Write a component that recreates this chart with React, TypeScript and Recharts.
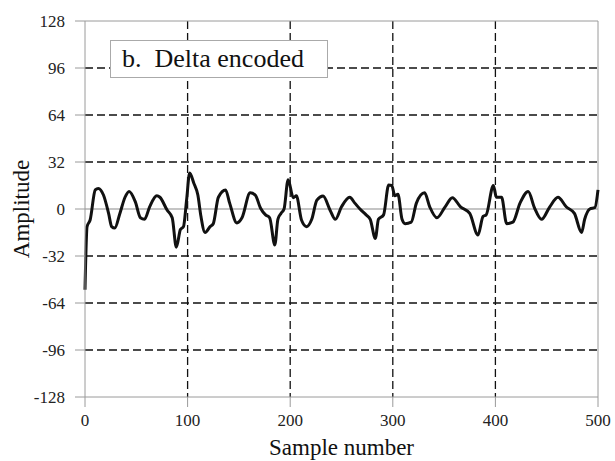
import React from 'react';
import { LineChart, Line, XAxis, YAxis, CartesianGrid, ReferenceLine } from 'recharts';

// DATA
const sampleIdx = [
  0, 2, 5, 10, 13, 18, 23, 26, 29, 34, 39, 43, 49, 54, 58, 63, 70, 73, 80, 85,
  89, 93, 96, 99, 102, 106, 110, 113, 117, 122, 125, 130, 137, 141, 148, 153, 161, 166, 171, 176,
  180, 185, 188, 191, 194, 198, 203, 206, 211, 216, 221, 226, 232, 239, 244, 250, 258, 263, 268, 274,
  278, 283, 286, 291, 296, 299, 302, 305, 309, 312, 318, 323, 331, 336, 343, 351, 358, 366, 375, 383,
  388, 391, 398, 401, 406, 411, 417, 424, 432, 438, 445, 453, 461, 469, 477, 484, 487, 492, 497, 500,
];
const amplitude = [
  -55, -12, -7.5, 13, 14, 9.5, -3, -12, -13, -3, 8, 12, 5, -6, -7, 1.5, 9, 8, -0.7, -6,
  -26, -14, -12, 6, 24.5, 17.7, 9.5, -5, -16, -12, -10, 8, 13, 4, -9.5, -6, 11, 9.5, 0.7, -4,
  -6, -24.5, -7, -3, 0, 20, 7.7, 9, -7.5, -12, -7, 6, 8.8, -1, -7, 1.5, 8, 4, 0, -4,
  -7, -20, -7, -4, 16.3, 16, 9, 10, -7, -10, -9, 4, 11, 1.5, -6, 1.5, 7.7, 1.5, -3, -17.7,
  -5, -4, 16, 8, 8, -10, -9, 4, 12, 1, -7, 1.5, 8, 1.5, -3, -16, -7, 0, 1, 13,
];
const xTicks = [0, 100, 200, 300, 400, 500];
const yTicks = [-128, -96, -64, -32, 0, 32, 64, 96, 128];
const gridX = [100, 200, 300, 400];
const gridY = [-96, -64, -32, 32, 64, 96];

const data = sampleIdx.map((s, i) => ({ s, v: amplitude[i] }));

const FONT = 'Liberation Serif';
const FRAME = '#9a9a9a';

const App: React.FC = () => {
  return (
    <div style={{ position: 'absolute', left: 0, top: 0, width: 615, height: 461, background: '#fff', fontFamily: FONT }}>
      <LineChart width={615} height={461} data={data} margin={{ top: 21, right: 17, left: 0, bottom: 0 }} style={{ fontFamily: FONT }}>
        <CartesianGrid
          horizontalValues={gridY}
          verticalValues={gridX}
          stroke="#111"
          strokeDasharray="8 4"
          strokeWidth={1.3}
        />
        <XAxis
          dataKey="s"
          type="number"
          domain={[0, 500]}
          ticks={xTicks}
          height={64}
          stroke={FRAME}
          tickSize={10}
          tickMargin={7}
          tick={{ fill: '#222', fontSize: 17, fontFamily: FONT }}
          label={{ value: 'Sample number', position: 'insideBottom', offset: 6, style: { fontSize: 23, fontFamily: FONT, fill: '#111' } }}
        />
        <YAxis
          type="number"
          domain={[-128, 128]}
          ticks={yTicks}
          width={85}
          stroke={FRAME}
          tickSize={10}
          tickMargin={10}
          tick={{ fill: '#222', fontSize: 17, fontFamily: FONT }}
          label={{ value: 'Amplitude', angle: -90, position: 'insideLeft', offset: 21, style: { textAnchor: 'middle', fontSize: 23, fontFamily: FONT, fill: '#111' } }}
        />
        <ReferenceLine y={0} stroke="#8a8a8a" strokeWidth={1.2} />
        <ReferenceLine y={128} stroke={FRAME} />
        <ReferenceLine x={500} stroke={FRAME} />
        <Line
          type="monotone"
          dataKey="v"
          stroke="#111"
          strokeWidth={3}
          dot={false}
          isAnimationActive={false}
        />
      </LineChart>
      <div
        style={{
          position: 'absolute',
          left: 110,
          top: 40,
          width: 218,
          height: 38,
          border: '1px solid #aaa',
          background: '#fff',
          fontFamily: FONT,
          fontSize: 26,
          color: '#111',
          lineHeight: '35px',
          paddingLeft: 11,
          boxSizing: 'border-box',
          whiteSpace: 'pre',
        }}
      >
        {'b.  Delta encoded'}
      </div>
    </div>
  );
};

export default App;
